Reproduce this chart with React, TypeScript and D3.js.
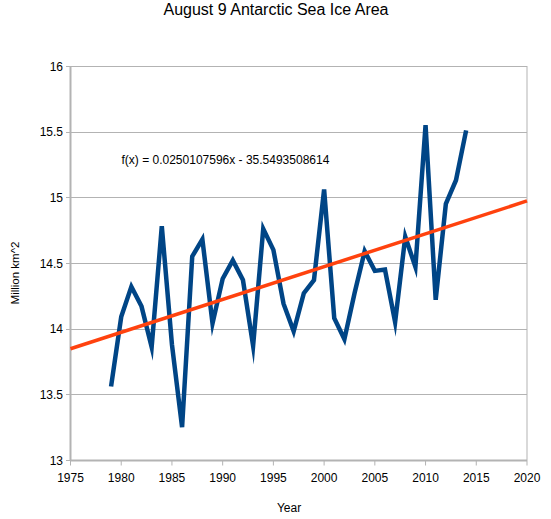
import { useEffect, useRef } from 'react';
import * as d3 from 'd3';

const YEARS = [
  1979, 1980, 1981, 1982, 1983, 1984, 1985, 1986, 1987, 1988, 1989, 1990,
  1991, 1992, 1993, 1994, 1995, 1996, 1997, 1998, 1999, 2000, 2001, 2002,
  2003, 2004, 2005, 2006, 2007, 2008, 2009, 2010, 2011, 2012, 2013, 2014,
];
const AREA = [
  13.56, 14.09, 14.32, 14.17, 13.86, 14.78, 13.88, 13.25, 14.55, 14.68, 14.04, 14.38,
  14.52, 14.37, 13.87, 14.76, 14.60, 14.19, 13.98, 14.27, 14.37, 15.06, 14.08, 13.92,
  14.27, 14.59, 14.44, 14.45, 14.05, 14.70, 14.47, 15.55, 14.22, 14.95, 15.13, 15.51,
];
// linear trend as printed on the chart
const TREND_SLOPE = 0.0250107596;
const TREND_INTERCEPT = -35.5493508614;
const TREND_LABEL = 'f(x) = 0.0250107596x - 35.5493508614';

const X_TICKS = [1975, 1980, 1985, 1990, 1995, 2000, 2005, 2010, 2015, 2020];
const Y_TICKS = [13, 13.5, 14, 14.5, 15, 15.5, 16];

const TITLE = 'August 9 Antarctic Sea Ice Area';
const X_TITLE = 'Year';
const Y_TITLE = 'Million km^2';

const W = 551;
const H = 519;
const FONT = '"Liberation Sans", Arial, sans-serif';
const GRID = '#b3b3b3';

export default function App() {
  const svgRef = useRef<SVGSVGElement>(null);

  useEffect(() => {
    if (!svgRef.current) return;
    const svg = d3.select(svgRef.current);
    svg.selectAll('*').remove();

    const left = 70.5, right = 527, top = 66, bottom = 460;

    const x = d3.scaleLinear().domain([1975, 2020]).range([left, right]);
    const y = d3.scaleLinear().domain([13, 16]).range([bottom, top]);

    svg.append('rect').attr('width', W).attr('height', H).attr('fill', '#fff');

    // ── Title ───────────────────────────────────────────────
    svg.append('text')
      .attr('x', 276).attr('y', 15)
      .attr('text-anchor', 'middle')
      .attr('font-family', FONT).attr('font-size', '16px').attr('fill', '#000')
      .text(TITLE);

    // ── Grid ────────────────────────────────────────────────
    svg.append('g')
      .selectAll('line')
      .data(Y_TICKS)
      .join('line')
      .attr('x1', left - 4.5).attr('x2', right)
      .attr('y1', d => Math.round(y(d)) + 0.5).attr('y2', d => Math.round(y(d)) + 0.5)
      .attr('stroke', GRID).attr('stroke-width', 1);

    // right border
    svg.append('line')
      .attr('x1', right).attr('x2', right).attr('y1', top).attr('y2', bottom)
      .attr('stroke', GRID).attr('stroke-width', 1);

    // ── Axes ────────────────────────────────────────────────
    svg.append('line')
      .attr('x1', left).attr('x2', left).attr('y1', top).attr('y2', bottom + 1)
      .attr('stroke', GRID).attr('stroke-width', 2);
    svg.append('line')
      .attr('x1', left).attr('x2', right).attr('y1', bottom + 0.5).attr('y2', bottom + 0.5)
      .attr('stroke', GRID).attr('stroke-width', 2);

    svg.append('g')
      .selectAll('line')
      .data(X_TICKS)
      .join('line')
      .attr('x1', d => x(d)).attr('x2', d => x(d))
      .attr('y1', bottom).attr('y2', bottom + 5.5)
      .attr('stroke', GRID).attr('stroke-width', 1);

    svg.append('g')
      .selectAll('text')
      .data(X_TICKS)
      .join('text')
      .attr('x', d => x(d)).attr('y', 482)
      .attr('text-anchor', 'middle')
      .attr('font-family', FONT).attr('font-size', '12px').attr('fill', '#000')
      .text(d => d);

    svg.append('g')
      .selectAll('text')
      .data(Y_TICKS)
      .join('text')
      .attr('x', 63).attr('y', d => y(d) + 4.5)
      .attr('text-anchor', 'end')
      .attr('font-family', FONT).attr('font-size', '12px').attr('fill', '#000')
      .text(d => d);

    svg.append('text')
      .attr('x', 289).attr('y', 512)
      .attr('text-anchor', 'middle')
      .attr('font-family', FONT).attr('font-size', '12px').attr('fill', '#000')
      .text(X_TITLE);

    svg.append('text')
      .attr('transform', 'translate(18.5,273) rotate(-90)')
      .attr('text-anchor', 'middle')
      .attr('font-family', FONT).attr('font-size', '11.5px').attr('fill', '#000')
      .text(Y_TITLE);

    // ── Data line ───────────────────────────────────────────
    const pts = YEARS.map((yr, i) => [yr, AREA[i]] as [number, number]);
    const line = d3.line<[number, number]>().x(d => x(d[0])).y(d => y(d[1]));

    svg.append('path').datum(pts)
      .attr('fill', 'none').attr('stroke', '#004586')
      .attr('stroke-width', 4.5).attr('stroke-linejoin', 'miter').attr('stroke-miterlimit', 10)
      .attr('d', line);

    // ── Trend line ──────────────────────────────────────────
    const trend = x.domain().map(yr => [yr, TREND_SLOPE * yr + TREND_INTERCEPT] as [number, number]);
    svg.append('path').datum(trend)
      .attr('fill', 'none').attr('stroke', '#ff420e').attr('stroke-width', 3.5)
      .attr('d', line);

    svg.append('text')
      .attr('x', 121.5).attr('y', 164)
      .attr('font-family', FONT).attr('font-size', '12px').attr('fill', '#000')
      .text(TREND_LABEL);
  }, []);

  return (
    <svg
      ref={svgRef}
      width={W}
      height={H}
      style={{ position: 'absolute', left: 0, top: 0, display: 'block' }}
    />
  );
}
